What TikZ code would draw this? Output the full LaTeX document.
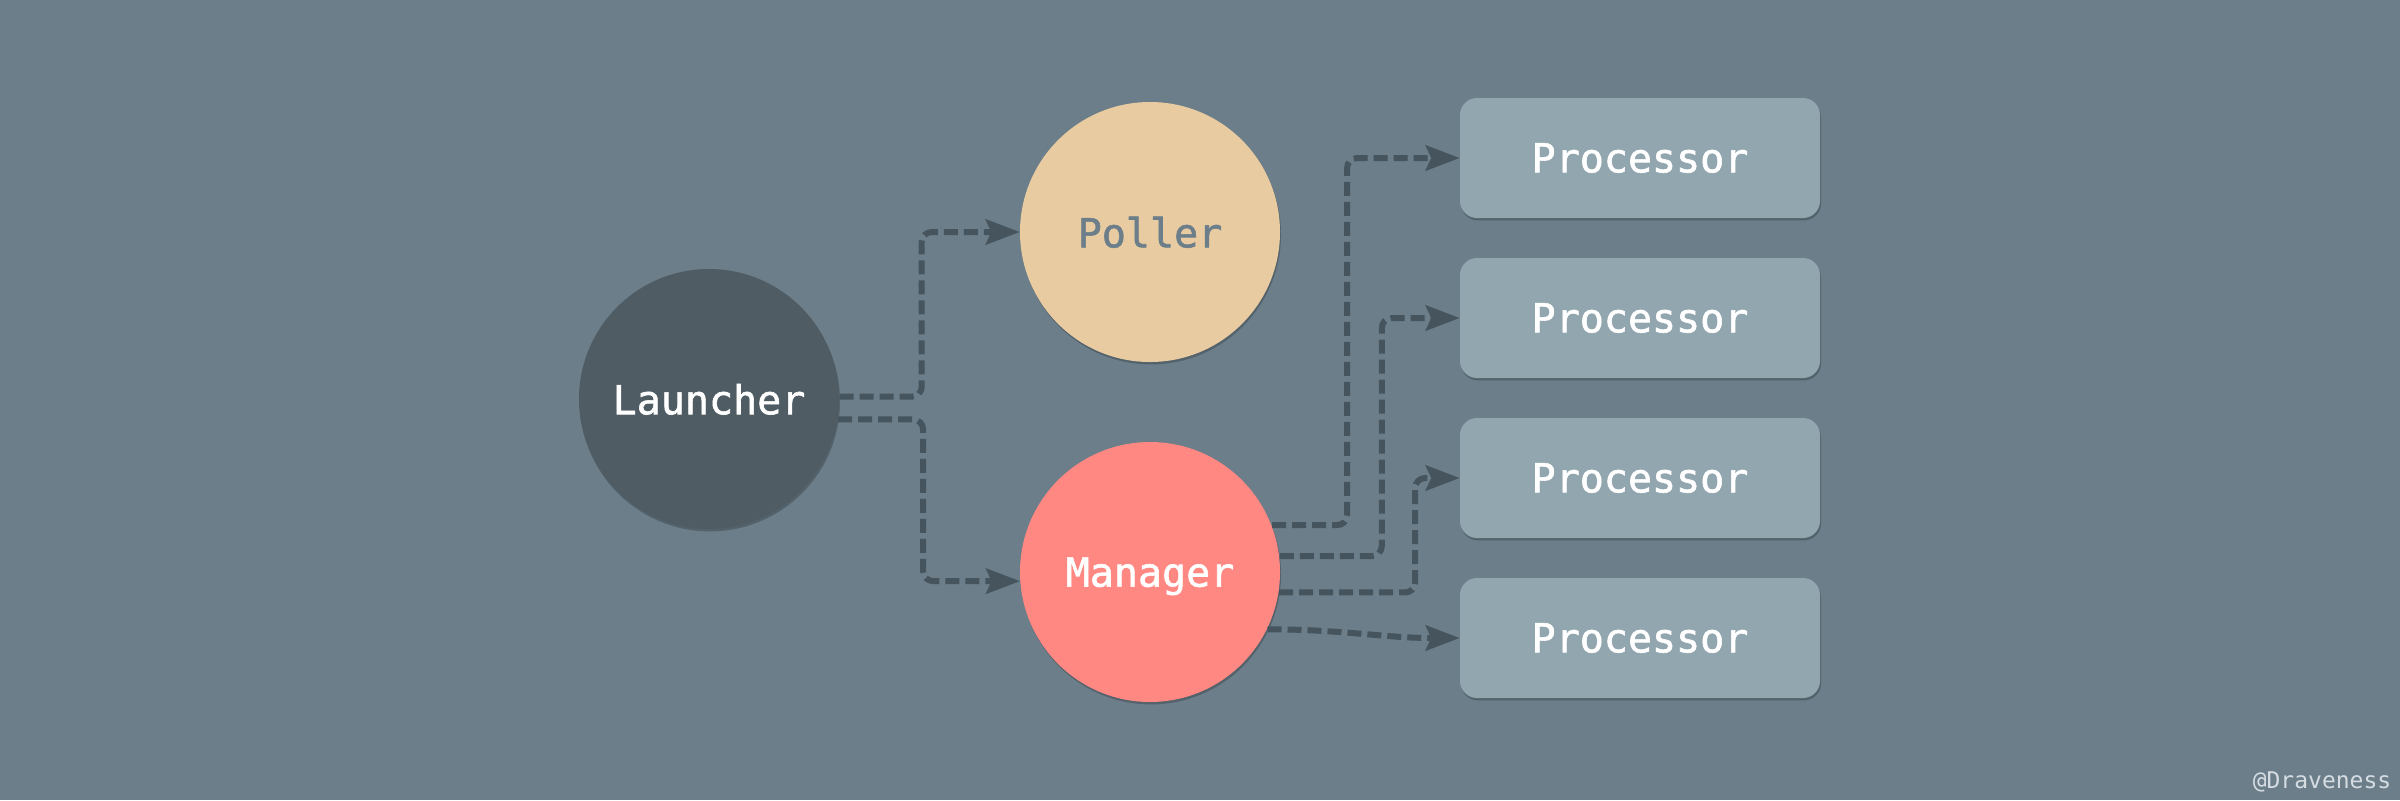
\documentclass[tikz,border=0pt]{standalone}
\usepackage{fontspec}
\setmonofont{DejaVu Sans Mono}
\newfontfamily\labelfont[FakeBold=1.5]{DejaVu Sans Mono}
\usetikzlibrary{arrows.meta,shadows}

\definecolor{bgGray}{RGB}{107,126,138}
\definecolor{launchGray}{RGB}{80,92,99}
\definecolor{pollerSand}{RGB}{232,203,160}
\definecolor{managerRed}{RGB}{255,136,130}
\definecolor{procBlue}{RGB}{146,166,175}
\definecolor{flowGray}{RGB}{70,84,94}
\definecolor{signGray}{RGB}{214,221,226}

\tikzset{every picture/.style={line width=0.75pt}}

\begin{document}
\begin{tikzpicture}[x=0.5pt,y=0.5pt,yscale=-1,xscale=1,
  ball/.style={circle, minimum size=130pt, inner sep=0pt, text=white, text depth=0pt,
    font=\labelfont\fontsize{20}{24}\selectfont,
    drop shadow={shadow xshift=0.5pt, shadow yshift=-1.2pt, opacity=0.22, fill=black}},
  procbox/.style={rounded corners=8.5pt, minimum width=180pt, minimum height=60pt,
    inner sep=0pt, fill=procBlue, text=white, font=\labelfont\fontsize{20}{24}\selectfont,
    drop shadow={shadow xshift=0.5pt, shadow yshift=-1.2pt, opacity=0.22, fill=black}},
  flow/.style={draw=flowGray, line width=3pt, dash pattern=on 7pt off 3pt,
    rounded corners=5pt, -{Stealth[length=17pt,width=13pt,inset=3pt,line width=0.1pt]}}]

%background, sets the picture size
\fill[bgGray] (0,0) rectangle (2400,800);

%Shape: Circles
\node[ball, fill=launchGray] (launcher) at (709,399) {Launcher};
\node[ball, fill=pollerSand, text=bgGray] (poller) at (1150,232) {Poller};
\node[ball, fill=managerRed] (manager) at (1150,572) {Manager};

%Shape: Rounded boxes
\node[procbox] (proc1) at (1640,158) {Processor};
\node[procbox] (proc2) at (1640,318) {Processor};
\node[procbox] (proc3) at (1640,478) {Processor};
\node[procbox] (proc4) at (1640,638) {Processor};

%Connectors from the launcher
\draw[flow] (launcher.1) -- ++(82,0) |- (poller.west);
\draw[flow] (launcher.-9) -- ++(85,0) |- (manager.184);

%Connectors from the manager
\draw[flow] (manager.21) -- ++(75,0) |- (proc1.west);
\draw[flow] (manager.7) -- ++(102,0) |- (proc2.west);
\draw[flow] (manager.-9) -- ++(136,0) |- (proc3.west);
\draw[flow] (manager.-26) to[out=0,in=180] (proc4.west);

% Text Node
\node[anchor=east, inner sep=0pt, text=signGray, font=\ttfamily\fontsize{11.5}{14}\selectfont] (sign) at (2392,782) {@Draveness};

\end{tikzpicture}
\end{document}
